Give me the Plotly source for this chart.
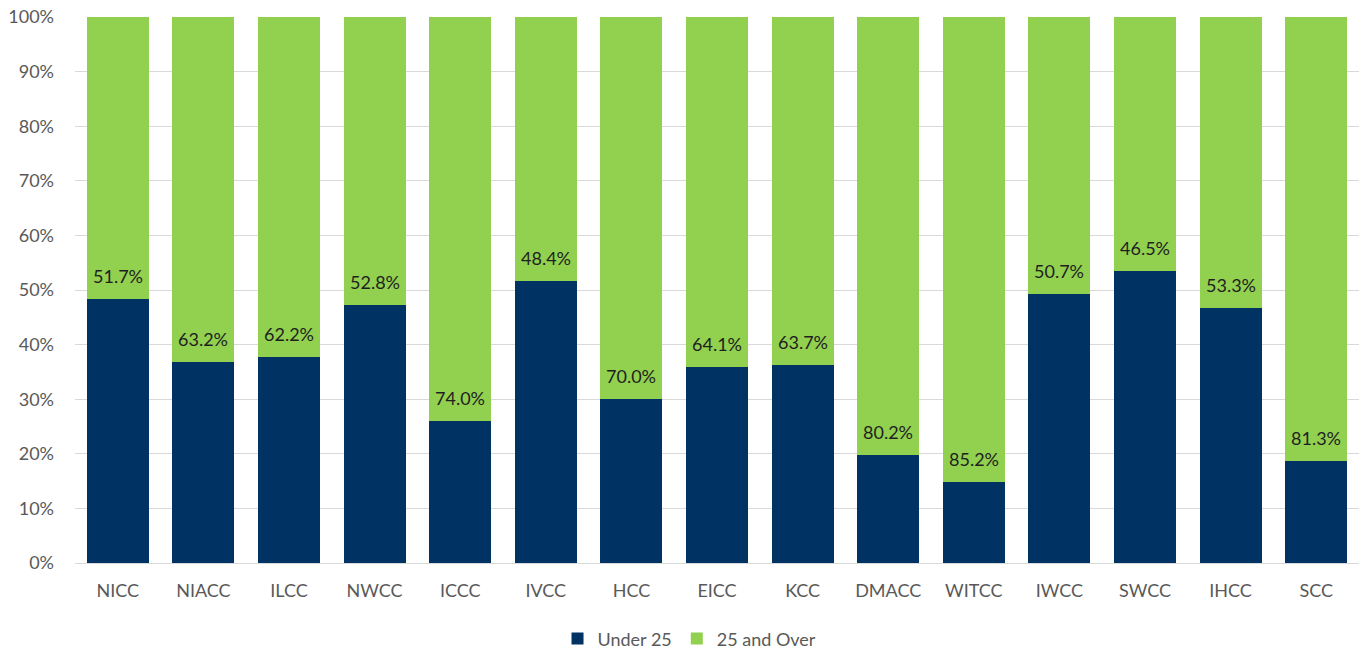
import plotly.graph_objects as go

colleges = ["NICC", "NIACC", "ILCC", "NWCC", "ICCC", "IVCC", "HCC", "EICC", "KCC",
            "DMACC", "WITCC", "IWCC", "SWCC", "IHCC", "SCC"]
under_25 = [48.3, 36.8, 37.8, 47.2, 26.0, 51.6, 30.0, 35.9, 36.3, 19.8, 14.8, 49.3, 53.5, 46.7, 18.7]
over_25 = [51.7, 63.2, 62.2, 52.8, 74.0, 48.4, 70.0, 64.1, 63.7, 80.2, 85.2, 50.7, 46.5, 53.3, 81.3]

FONT = "Lato, 'Open Sans', sans-serif"

fig = go.Figure()
fig.add_trace(go.Bar(
    name="Under 25", x=colleges, y=[v / 100 for v in under_25],
    marker=dict(color="#003264", line=dict(width=0)),
    hoverinfo="skip",
))
fig.add_trace(go.Bar(
    name="25 and Over", x=colleges, y=[v / 100 for v in over_25],
    marker=dict(color="#92D050", line=dict(width=0)),
    hoverinfo="skip",
))

for c, u, o in zip(colleges, under_25, over_25):
    fig.add_annotation(
        x=c, y=u / 100, text=f"{o:.1f}%", showarrow=False,
        xanchor="center", yanchor="middle", yshift=23,
        font=dict(size=18, color="#1f1f1f", family=FONT),
    )

fig.update_layout(
    barmode="stack",
    bargap=0.276,
    width=1359, height=649,
    margin=dict(l=75, r=0, t=17, b=86, autoexpand=False),
    plot_bgcolor="white", paper_bgcolor="white",
    font=dict(family=FONT, size=18, color="#595959"),
    legend=dict(orientation="h", x=0.4786, xanchor="center", y=-0.139, yanchor="middle",
                font=dict(size=18, color="#595959"), itemwidth=30, traceorder="normal"),
    xaxis=dict(showgrid=False, showline=False, ticks="", tickfont=dict(size=18, color="#595959"),
               ticklabelstandoff=15, automargin=False),
    yaxis=dict(range=[0, 1], tickformat=".0%", dtick=0.1, showgrid=True, gridcolor="#D9D9D9",
               gridwidth=1, zeroline=True, zerolinecolor="#D9D9D9", zerolinewidth=1,
               showline=False, ticks="", tickfont=dict(size=18, color="#595959"),
               ticklabelstandoff=20, automargin=False),
)

fig.write_html("out.html", config={"displayModeBar": False},
               post_script="document.body.style.margin='0';document.body.style.overflow='hidden';")
